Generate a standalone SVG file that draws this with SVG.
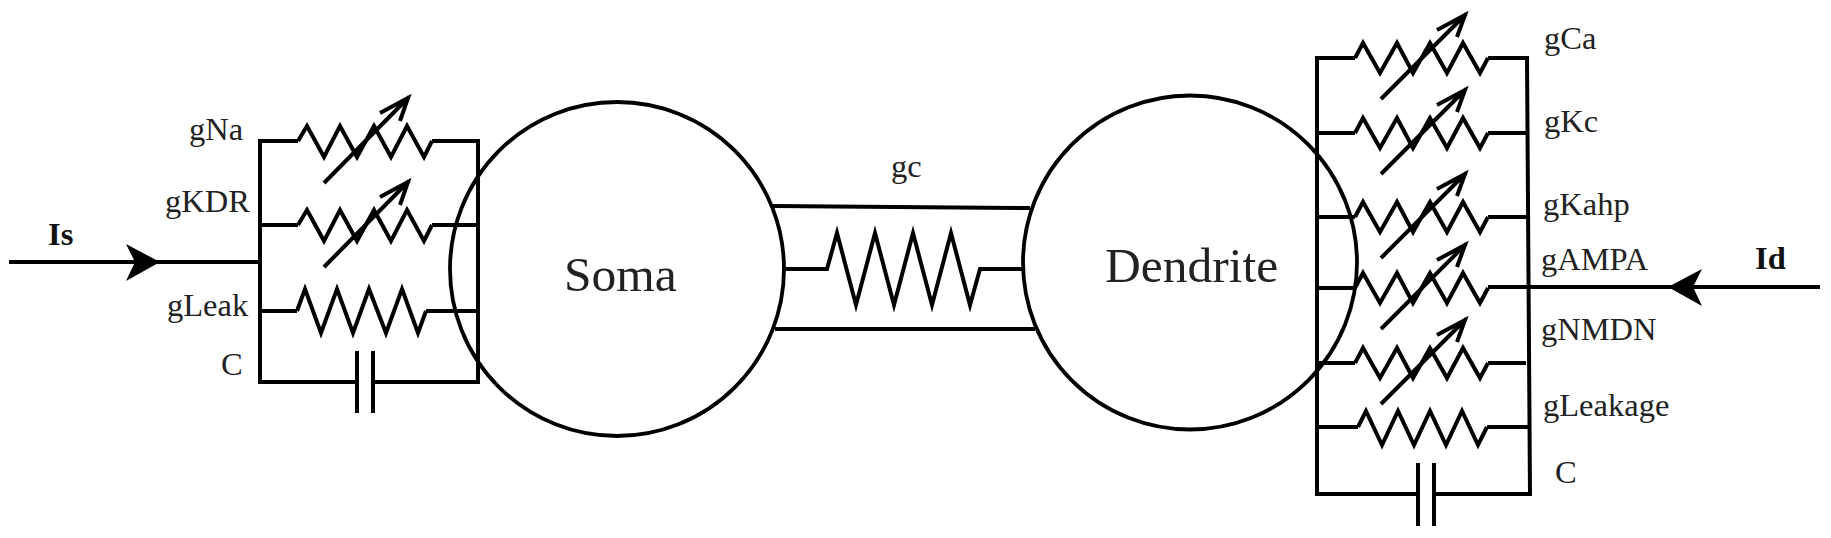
<svg xmlns="http://www.w3.org/2000/svg" width="1831" height="538" viewBox="0 0 1831 538">
<style>
.w{fill:none;stroke:#000;stroke-width:4;stroke-linejoin:miter;stroke-miterlimit:4}
.c{fill:none;stroke:#000;stroke-width:3.8}
.h{fill:#000;stroke:none}
text{font-family:"Liberation Serif","Times New Roman",serif;font-size:32.5px;fill:#222}
.b{font-weight:bold;fill:#111}
.big{font-size:49.5px}
</style>
<defs>
<g id="rv"><path class="w" d="M1355 58L1363 43L1380 73L1397 43L1413 73L1430 43L1447 73L1463 43L1480 73L1488 58"/><path class="w" d="M1381 99L1466 14M1437 30L1465 15L1457 37"/></g>
<g id="ra"><path class="w" d="M298 141L307 126L324 157L340 126L357 157L374 126L391 157L407 126L424 157L432 141"/><path class="w" d="M324 183L409 97M380 113L408 98L400 121"/></g>
</defs>
<g id="soma"><circle class="c" cx="617" cy="269" r="167"/><text class="big" x="564" y="291">Soma</text></g>
<g id="dendrite"><circle class="c" cx="1190" cy="262.5" r="167"/><text class="big" x="1105" y="282">Dendrite</text></g>
<g id="connectors">
<path class="w" d="M9 262H260"/>
<path class="h" d="M160 262L126 244L135 262L126 281Z"/>
<path class="w" d="M1820 287H1488"/>
<path class="h" d="M1668 287L1702 269L1693 287L1702 306Z"/>
<path class="w" d="M773 206L1030 208M775 329H1035"/>
<path class="w" d="M785 269H827L837 233L856 305L875 233L894 305L913 233L932 305L951 233L970 305L980 269H1022"/>
</g>
<g id="soma-channels">
<path class="w" d="M298 141H260V382H357M373 382H478V141H432"/>
<path class="w" d="M357 351V413M373 351V413"/>
<path class="w" d="M260 225H298M432 225H478M260 311H297M426 311H478"/>
<use href="#ra"/>
<use href="#ra" y="84"/>
<path class="w" d="M297 311L305 289L321 333L337 289L353 333L369 289L386 333L402 289L418 333L426 311"/>
</g>
<g id="dendrite-channels">
<path class="w" d="M1355 58H1317V494H1418M1434 494H1530L1527 58H1488"/>
<path class="w" d="M1418 463V526M1434 463V526"/>
<path class="w" d="M1317 133H1355M1488 133H1527M1317 217H1355M1488 217H1527M1317 288H1355M1317 363H1355M1488 363H1526M1317 427H1358M1487 427H1530"/>
<use href="#rv"/>
<use href="#rv" y="75"/>
<use href="#rv" y="159"/>
<use href="#rv" y="230"/>
<use href="#rv" y="305"/>
<path class="w" d="M1358 427L1366 411L1382 445L1398 411L1414 445L1430 411L1446 445L1462 411L1478 445L1487 427"/>
</g>
<g id="labels">
<text class="b" x="48" y="245">Is</text>
<text x="189" y="140">gNa</text>
<text x="165" y="212">gKDR</text>
<text x="167" y="316">gLeak</text>
<text x="221" y="375">C</text>
<text x="891" y="177">gc</text>
<text x="1544" y="49">gCa</text>
<text x="1544" y="132">gKc</text>
<text x="1543" y="215">gKahp</text>
<text x="1541" y="270">gAMPA</text>
<text x="1541" y="340">gNMDN</text>
<text x="1543" y="416">gLeakage</text>
<text x="1555" y="483">C</text>
<text class="b" x="1755" y="269">Id</text>
</g>
</svg>
